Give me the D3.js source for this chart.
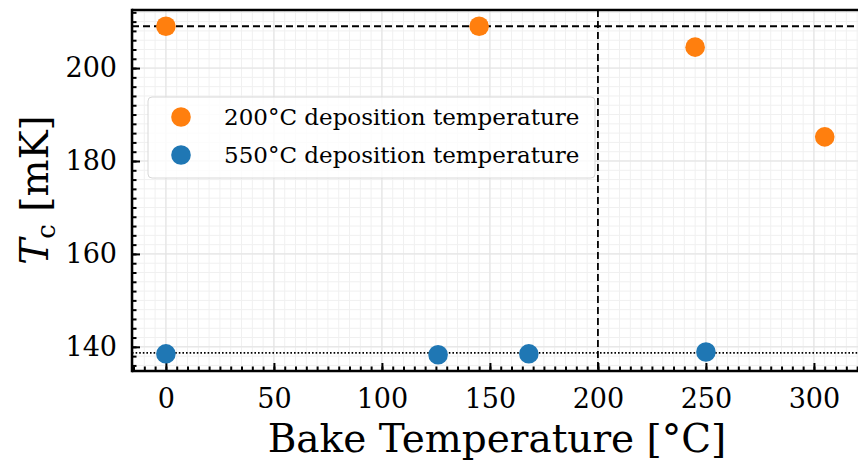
<!DOCTYPE html>
<html lang="en">
<head>
<meta charset="UTF-8">
<title>Tc vs bake temperature</title>
<style>
  html, body { margin: 0; padding: 0; background: #fff; }
  svg { display: block; font-family: "DejaVu Serif", serif; }
</style>
</head>
<body>
<svg id="chart" width="858" height="460"></svg>
<script src="https://cdn.jsdelivr.net/npm/d3@7"></script>
<script>
// data
const bake200 = [0, 145, 245, 305];
const tc200 = [209.0, 209.0, 204.5, 185.2];
const bake550 = [0, 126, 168, 250];
const tc550 = [138.5, 138.3, 138.5, 138.9];
const seriesNames = ['200°C deposition temperature', '550°C deposition temperature'];
const seriesColors = ['#ff7f0e', '#1f77b4'];
const xTicks = [0, 50, 100, 150, 200, 250, 300];
const yTicks = [140, 160, 180, 200];
const refTc200 = 209.0, refTc550 = 138.7, refBake = 200;

const svg = d3.select('#chart');
const pLeft = 132, pTop = 10, pRight = 858, pBottom = 371;

const x = d3.scaleLinear().domain([-15.7, 320.4]).range([pLeft, pRight]);
const y = d3.scaleLinear().domain([134.8, 212.5]).range([pBottom, pTop]);

const xMinorVals = d3.range(-15, 321, 5);
const yMinorVals = d3.range(136, 213, 2);

// grid (minor then major)
const g = svg.append('g');
g.selectAll('.vmin').data(xMinorVals).join('line')
  .attr('x1', d => x(d)).attr('x2', d => x(d)).attr('y1', pTop).attr('y2', pBottom)
  .attr('stroke', '#f0f0f0').attr('stroke-width', 1);
g.selectAll('.hmin').data(yMinorVals).join('line')
  .attr('y1', d => y(d)).attr('y2', d => y(d)).attr('x1', pLeft).attr('x2', pRight)
  .attr('stroke', '#f0f0f0').attr('stroke-width', 1);
g.selectAll('.vmaj').data(xTicks).join('line')
  .attr('x1', d => x(d)).attr('x2', d => x(d)).attr('y1', pTop).attr('y2', pBottom)
  .attr('stroke', '#e2e2e2').attr('stroke-width', 1);
g.selectAll('.hmaj').data(yTicks).join('line')
  .attr('y1', d => y(d)).attr('y2', d => y(d)).attr('x1', pLeft).attr('x2', pRight)
  .attr('stroke', '#e2e2e2').attr('stroke-width', 1);

// reference lines
svg.append('line').attr('x1', pLeft).attr('x2', pRight)
  .attr('y1', y(refTc200)).attr('y2', y(refTc200))
  .attr('stroke', '#000').attr('stroke-width', 1.8).attr('stroke-dasharray', '7,4');
svg.append('line').attr('x1', pLeft).attr('x2', pRight)
  .attr('y1', y(refTc550)).attr('y2', y(refTc550))
  .attr('stroke', '#000').attr('stroke-width', 1.8).attr('stroke-dasharray', '1.6,2');
svg.append('line').attr('x1', x(refBake)).attr('x2', x(refBake))
  .attr('y1', pTop).attr('y2', pBottom)
  .attr('stroke', '#000').attr('stroke-width', 1.8).attr('stroke-dasharray', '7,4');

// axes with inward ticks
const xMajor = d3.axisBottom(x).tickValues(xTicks).tickSize(-8).tickPadding(18);
const xMinor = d3.axisBottom(x).tickValues(xMinorVals).tickSize(-4.5).tickFormat('');
const yMajor = d3.axisLeft(y).tickValues(yTicks).tickSize(-8).tickPadding(15);
const yMinor = d3.axisLeft(y).tickValues(yMinorVals).tickSize(-4.5).tickFormat('');

function styleAxis(sel) {
  sel.select('.domain').remove();
  sel.selectAll('.tick line').attr('stroke', '#000').attr('stroke-width', 2);
  sel.selectAll('.tick text').attr('fill', '#000')
    .style('font-family', '"DejaVu Serif", serif').style('font-size', '27px');
}
svg.append('g').attr('transform', `translate(0,${pBottom})`).call(xMinor).call(styleAxis);
svg.append('g').attr('transform', `translate(0,${pBottom})`).call(xMajor).call(styleAxis);
svg.append('g').attr('transform', `translate(${pLeft},0)`).call(yMinor).call(styleAxis);
svg.append('g').attr('transform', `translate(${pLeft},0)`).call(yMajor).call(styleAxis);

// spines
svg.append('line').attr('x1', pLeft).attr('x2', pRight).attr('y1', pBottom).attr('y2', pBottom)
  .attr('stroke', '#000').attr('stroke-width', 2.5);
svg.append('line').attr('x1', pLeft).attr('x2', pRight).attr('y1', pTop).attr('y2', pTop)
  .attr('stroke', '#000').attr('stroke-width', 2.5);
svg.append('line').attr('x1', pLeft).attr('x2', pLeft).attr('y1', pTop - 1.25).attr('y2', pBottom + 1.25)
  .attr('stroke', '#000').attr('stroke-width', 2.5);

// points
const pts = [
  ...bake200.map((b, i) => ({ b, t: tc200[i], s: 0 })),
  ...bake550.map((b, i) => ({ b, t: tc550[i], s: 1 }))
];
svg.append('g').selectAll('circle').data(pts).join('circle')
  .attr('cx', d => x(d.b)).attr('cy', d => y(d.t)).attr('r', 9.8)
  .attr('fill', d => seriesColors[d.s]);

// legend
const leg = svg.append('g').attr('transform', 'translate(148,97)');
leg.append('rect').attr('width', 447).attr('height', 81).attr('rx', 4)
  .attr('fill', 'rgba(255,255,255,0.8)').attr('stroke', '#d8d8d8').attr('stroke-width', 1);
seriesNames.forEach((name, i) => {
  const row = leg.append('g').attr('transform', `translate(0,${20 + i * 38})`);
  row.append('circle').attr('cx', 33).attr('cy', 0).attr('r', 9.8).attr('fill', seriesColors[i]);
  row.append('text').attr('x', 76).attr('y', 0).attr('dy', '0.35em')
    .style('font-size', '23px').attr('fill', '#000').text(name);
});

// axis labels
svg.append('text').attr('x', 497).attr('y', 452).attr('text-anchor', 'middle')
  .style('font-size', '39px').attr('fill', '#000').text('Bake Temperature [°C]');
const yl = svg.append('text').attr('transform', 'translate(48,190) rotate(-90)')
  .attr('text-anchor', 'middle').style('font-size', '39px').attr('fill', '#000');
yl.append('tspan').style('font-style', 'italic').text('T');
yl.append('tspan').attr('dy', 7).style('font-size', '26px').text('c');
yl.append('tspan').attr('dy', -7).text(' [mK]');
</script>
</body>
</html>
